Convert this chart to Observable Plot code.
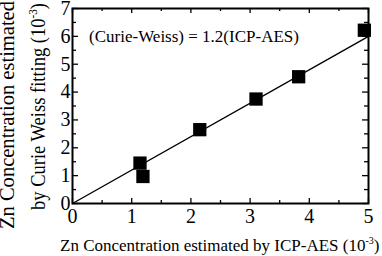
<!DOCTYPE html>
<html><head><meta charset="utf-8">
<script src="https://cdn.jsdelivr.net/npm/d3@7"></script>
<script src="https://cdn.jsdelivr.net/npm/@observablehq/plot@0.6"></script>
<style>body{margin:0;background:#fff}svg{display:block}svg text{font-family:"Liberation Serif","DejaVu Serif" !important}</style>
</head><body><div id="chart"></div>
<script>
const icpAes = [1.14, 1.19, 2.15, 3.10, 3.82, 4.93];
const curieWeiss = [1.45, 0.97, 2.65, 3.75, 4.55, 6.22];
const fitSlope = 1.2;
const fitX = [0, 5];
const xTicks = [0, 1, 2, 3, 4, 5];
const yTicks = [0, 1, 2, 3, 4, 5, 6, 7];
const xMinor = [0.5, 1.5, 2.5, 3.5, 4.5];
const yMinor = [0.5, 1.5, 2.5, 3.5, 4.5, 5.5, 6.5];
const equation = "(Curie-Weiss) = 1.2(ICP-AES)";

const points = icpAes.map((x, i) => ({x, y: curieWeiss[i]}));
const fit = fitX.map(x => ({x, y: fitSlope * x}));
const W = 382, H = 256, mt = 8, mb = 53, ml = 72, mr = 14;
const ph = H - mt - mb, pw = W - ml - mr;
const font = '"Liberation Serif","DejaVu Serif"';

const chart = Plot.plot({
  width: W, height: H,
  marginTop: mt, marginBottom: mb, marginLeft: ml, marginRight: mr,
  style: {fontFamily: font, fontSize: "20px", color: "#000", background: "#fff", overflow: "visible"},
  x: {domain: [0, 5]},
  y: {domain: [0, 7]},
  marks: [
    Plot.line(fit, {x: "x", y: "y", stroke: "#000", strokeWidth: 1.4}),
    Plot.dot(points, {x: "x", y: "y", symbol: "square", r: 7.5, fill: "#000"}),
    Plot.tickX(xTicks, {x: d => d, insetTop: ph - 5, stroke: "#000", strokeWidth: 1.3}),
    Plot.tickX(xTicks, {x: d => d, insetBottom: ph - 5, stroke: "#000", strokeWidth: 1.3}),
    Plot.tickX(xMinor, {x: d => d, insetTop: ph - 3, stroke: "#000", strokeWidth: 1.3}),
    Plot.tickX(xMinor, {x: d => d, insetBottom: ph - 3, stroke: "#000", strokeWidth: 1.3}),
    Plot.tickY(yTicks, {y: d => d, insetRight: pw - 6, stroke: "#000", strokeWidth: 1.3}),
    Plot.tickY(yTicks, {y: d => d, insetLeft: pw - 6, stroke: "#000", strokeWidth: 1.3}),
    Plot.tickY(yMinor, {y: d => d, insetRight: pw - 4, stroke: "#000", strokeWidth: 1.3}),
    Plot.tickY(yMinor, {y: d => d, insetLeft: pw - 4, stroke: "#000", strokeWidth: 1.3}),
    Plot.axisX(xTicks, {tickSize: 0, tickPadding: 5, label: null, fontSize: 20}),
    Plot.axisY(yTicks, {tickSize: 0, tickPadding: 2, label: null, fontSize: 20}),
    Plot.frame({stroke: "#000", strokeWidth: 2}),
    Plot.text([equation], {x: 0.28, y: 6.0, text: d => d, textAnchor: "start", fontSize: 17, fill: "#000"})
  ]
});

const svg = d3.select(chart);
const xt = svg.append("text")
  .attr("x", 60).attr("y", 251)
  .attr("text-anchor", "start")
  .attr("font-family", font).attr("font-size", 17).attr("fill", "#000");
xt.append("tspan").text("Zn Concentration estimated by ICP-AES (10");
xt.append("tspan").attr("font-size", 10).attr("dy", -7).text("-3");
xt.append("tspan").attr("dy", 7).text(")");

svg.append("text")
  .attr("transform", "translate(14,229) rotate(-90)")
  .attr("text-anchor", "start")
  .attr("textLength", 228).attr("lengthAdjust", "spacingAndGlyphs")
  .attr("font-family", font).attr("font-size", 20).attr("fill", "#000")
  .text("Zn Concentration estimated");
const yt = svg.append("text")
  .attr("transform", "translate(45,210) rotate(-90)")
  .attr("text-anchor", "start")
  .attr("textLength", 207).attr("lengthAdjust", "spacingAndGlyphs")
  .attr("font-family", font).attr("font-size", 20).attr("fill", "#000");
yt.append("tspan").text("by Curie Weiss fitting (10");
yt.append("tspan").attr("font-size", 12).attr("dy", -8).text("-3");
yt.append("tspan").attr("dy", 8).text(")");

document.getElementById("chart").appendChild(chart);
</script>
</body></html>
